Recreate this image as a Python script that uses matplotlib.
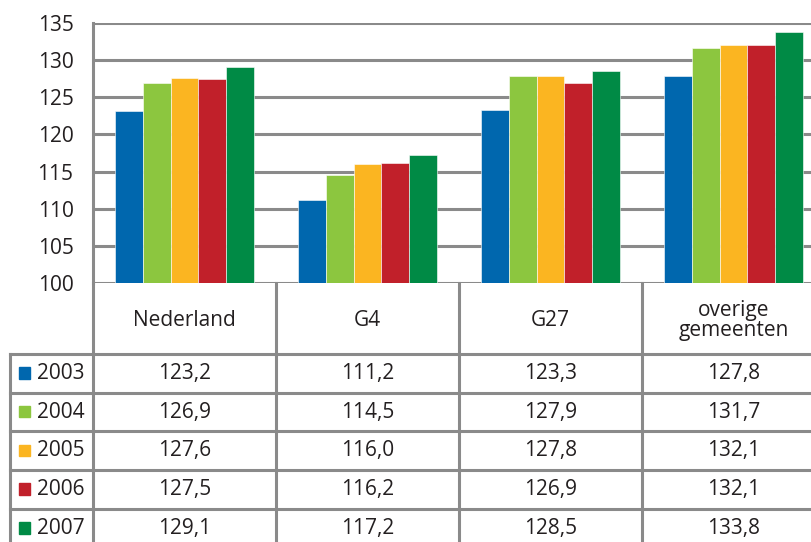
import numpy as np
import matplotlib.pyplot as plt

plt.rcParams['font.family'] = ['Open Sans', 'DejaVu Sans']

# data
regions = ['Nederland', 'G4', 'G27', 'overige\ngemeenten']
years = ['2003', '2004', '2005', '2006', '2007']
values = {
    '2003': [123.2, 111.2, 123.3, 127.8],
    '2004': [126.9, 114.5, 127.9, 131.7],
    '2005': [127.6, 116.0, 127.8, 132.1],
    '2006': [127.5, 116.2, 126.9, 132.1],
    '2007': [129.1, 117.2, 128.5, 133.8],
}
colors = ['#0067AE', '#8CC63F', '#FBB521', '#C1202A', '#008A45']

W, H = 812, 542
grid_col = '#8A8A8A'
txt_col = '#231F20'
fs = 15

fig = plt.figure(figsize=(W / 100, H / 100), dpi=100)

# plot area in pixels
x0, x1 = 93, 825
ytop, ybot = 23, 283
ax = fig.add_axes([x0 / W, (H - ybot) / H, (x1 - x0) / W, (ybot - ytop) / H])

n = len(years)
bw = 0.153
x = np.arange(len(regions))
for i, (yr, c) in enumerate(zip(years, colors)):
    off = (i - (n - 1) / 2) * bw
    ax.bar(x + off, np.array(values[yr]) - 100, bw, bottom=100, color=c,
           edgecolor='white', linewidth=0.4, zorder=3)

ax.set_xlim(-0.5, len(regions) - 0.5)
ax.set_ylim(100, 135)
ax.set_yticks(np.arange(100, 136, 5))
ax.set_xticks([])
ax.yaxis.grid(True, color=grid_col, linewidth=2.2, zorder=0)
ax.tick_params(axis='y', length=0, labelsize=fs, labelcolor=txt_col, pad=14)
for s in ['top', 'right', 'bottom']:
    ax.spines[s].set_visible(False)
ax.spines['left'].set_color(grid_col)
ax.spines['left'].set_linewidth(2.2)

# table below the plot
row_h = 38.7
tax = fig.add_axes([x0 / W, 0, (x1 - x0) / W, (H - ybot) / H])
tax.set_xlim(-0.5, len(regions) - 0.5)
tax.set_ylim((H - ybot) / row_h, 0)
tax.axis('off')

hdr = 71 / row_h
lab_left = -0.5 - (x0 - 10) / 183.0
lw = 2.2
bottom = (H - ybot) / row_h + 1

# vertical lines
for xv in np.arange(-0.5, len(regions) - 0.4, 1.0):
    tax.plot([xv, xv], [0, bottom], color=grid_col, lw=lw, clip_on=False)
tax.plot([lab_left, lab_left], [hdr, bottom], color=grid_col, lw=lw, clip_on=False)
# horizontal lines
for r in range(n + 1):
    yv = hdr + r
    tax.plot([lab_left, len(regions) - 0.5], [yv, yv], color=grid_col, lw=lw, clip_on=False)

# header text
for i, reg in enumerate(regions):
    tax.text(i, hdr / 2 + 0.05, reg, ha='center', va='center', fontsize=fs,
             color=txt_col, linespacing=0.95)

# rows
sq = (30 - 19) / 183.0
for r, (yr, c) in enumerate(zip(years, colors)):
    yc = hdr + r + 0.5
    tax.add_patch(plt.Rectangle((lab_left + 9 / 183.0, yc - 0.16), sq, 0.3,
                                color=c, clip_on=False))
    tax.text(lab_left + 27 / 183.0, yc, yr, ha='left', va='center',
             fontsize=fs, color=txt_col, clip_on=False)
    for i, v in enumerate(values[yr]):
        tax.text(i, yc, f'{v:.1f}'.replace('.', ','), ha='center', va='center',
                 fontsize=fs, color=txt_col)

fig.savefig('out.png', dpi=100)
